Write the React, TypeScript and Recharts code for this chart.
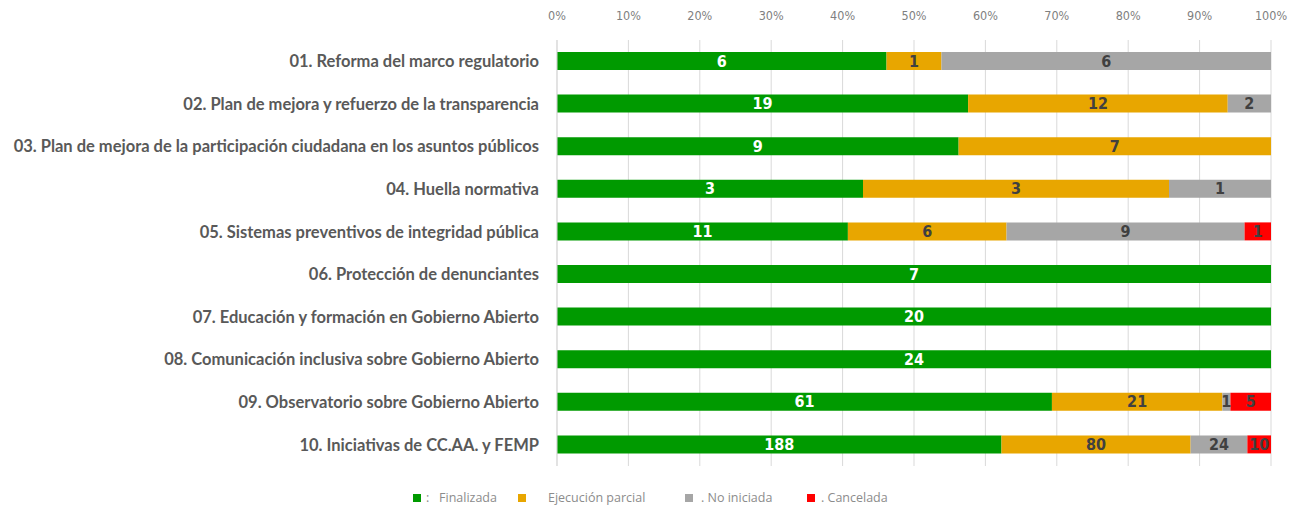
import React from "react";
import { BarChart, Bar, XAxis, YAxis, CartesianGrid, LabelList, Legend } from "recharts";

const categories = [
  "01. Reforma del marco regulatorio",
  "02. Plan de mejora y refuerzo de la transparencia",
  "03. Plan de mejora de la participación ciudadana en los asuntos públicos ",
  "04. Huella normativa",
  "05. Sistemas preventivos de integridad pública",
  "06. Protección de denunciantes",
  "07. Educación y formación en Gobierno Abierto",
  "08. Comunicación inclusiva sobre Gobierno Abierto",
  "09. Observatorio sobre Gobierno Abierto",
  "10. Iniciativas de CC.AA. y FEMP",
];
const finalizada = [6, 19, 9, 3, 11, 7, 20, 24, 61, 188];
const ejecucionParcial = [1, 12, 7, 3, 6, 0, 0, 0, 21, 80];
const noIniciada = [6, 2, 0, 1, 9, 0, 0, 0, 1, 24];
const cancelada = [0, 0, 0, 0, 1, 0, 0, 0, 5, 10];
const xTicks = [0, 0.1, 0.2, 0.3, 0.4, 0.5, 0.6, 0.7, 0.8, 0.9, 1];

const seriesNames = ["Finalizada", "Ejecución parcial", ". No iniciada", ". Cancelada"];
const seriesColors = ["#009A00", "#E8A600", "#A6A6A6", "#FF0000"];

const data = categories.map((c, i) => ({
  name: c,
  fin: finalizada[i],
  eje: ejecucionParcial[i],
  noi: noIniciada[i],
  can: cancelada[i],
}));

const labelFont = "'Liberation Sans Narrow', 'DejaVu Sans Condensed', 'Liberation Sans', sans-serif";

const makeLabel = (color: string) => (props: any) => {
  const { x, y, width, height, value } = props;
  if (!value) return null;
  return (
    <text
      x={x + width / 2}
      y={y + height / 2 + 1}
      textAnchor="middle"
      dominantBaseline="middle"
      fill={color}
      fontFamily={labelFont}
      fontWeight="bold"
      fontSize={16}
    >
      {value}
    </text>
  );
};

const CustomLegend = () => {
  const items = [
    { x: 413, tx: 426 },
    { x: 518, tx: 548 },
    { x: 685, tx: 701 },
    { x: 807, tx: 821 },
  ];
  return (
    <div style={{ position: "relative", width: 1289, height: 40 }}>
      <svg width={1289} height={40}>
        {items.map((it, i) => (
          <g key={i}>
            <rect x={it.x} y={28} width={8} height={8} fill={seriesColors[i]} />
            <text
              x={it.tx}
              y={36}
              fontFamily="'Open Sans', sans-serif"
              fontSize={12.5}
              fill="#8c8c8c"
              xmlSpace="preserve"
            >
              {i === 0 ? ":   " : ""}
              {seriesNames[i]}
            </text>
          </g>
        ))}
      </svg>
    </div>
  );
};

const keys = ["fin", "eje", "noi", "can"];
const labelColors = ["#ffffff", "#404040", "#404040", "#404040"];

export default function App() {
  return (
    <div style={{ position: "absolute", left: 0, top: 0, width: 1289, height: 506, background: "#fff" }}>
      <BarChart
        width={1289}
        height={506}
        data={data}
        layout="vertical"
        stackOffset="expand"
        barCategoryGap={0}
        margin={{ top: 10, right: 18, bottom: 0, left: 0 }}
      >
        <CartesianGrid horizontal={false} stroke="#d9d9d9" />
        <XAxis
          type="number"
          orientation="top"
          domain={[0, 1]}
          ticks={xTicks}
          tickFormatter={(v: number) => `${Math.round(v * 100)}%`}
          axisLine={false}
          tickLine={false}
          height={30}
          interval={0}
          tickMargin={14}
          tick={{ fill: "#7f7f7f", fontSize: 12.5, fontFamily: "'Liberation Sans Narrow', 'DejaVu Sans Condensed', sans-serif" }}
        />
        <YAxis
          type="category"
          dataKey="name"
          width={557}
          axisLine={{ stroke: "#d9d9d9" }}
          tickLine={false}
          interval={0}
          tickMargin={12}
          tick={{ fill: "#595959", fontSize: 16.5, fontWeight: "bold", fontFamily: "Lato, sans-serif" }}
        />
        <Legend verticalAlign="bottom" height={40} content={() => <CustomLegend />} wrapperStyle={{ left: 0, bottom: 0 }} />
        {keys.map((k, i) => (
          <Bar
            key={k}
            dataKey={k}
            name={seriesNames[i]}
            stackId="a"
            fill={seriesColors[i]}
            barSize={18}
            isAnimationActive={false}
          >
            <LabelList dataKey={k} content={makeLabel(labelColors[i])} />
          </Bar>
        ))}
      </BarChart>
    </div>
  );
}
